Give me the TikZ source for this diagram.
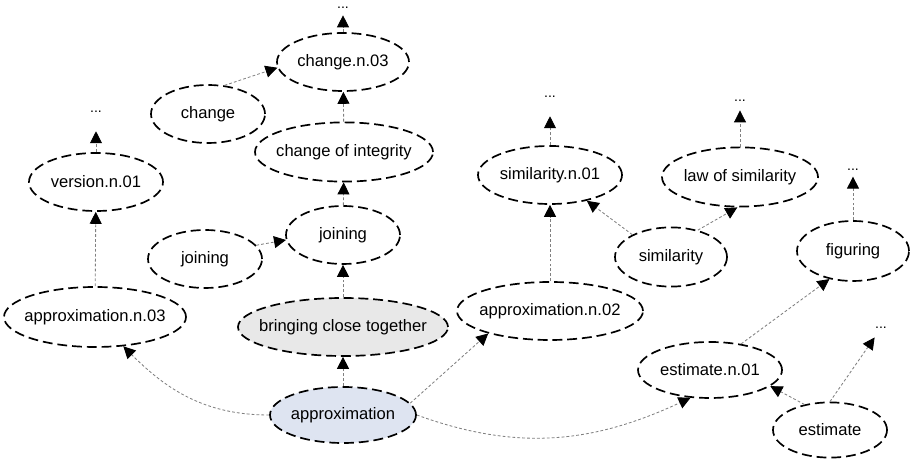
\documentclass[tikz,border=0pt]{standalone}
\usepackage{fontspec}
\setmainfont{Liberation Sans}
\usepackage{tikz}
\usetikzlibrary{shapes.geometric,arrows.meta}

\definecolor{seedblue}{RGB}{222,228,241}
\definecolor{hypgray}{RGB}{232,232,232}
\newcommand{\lbl}[1]{\makebox[0pt]{#1}}

\tikzset{
  concept/.style={ellipse,draw=black,line width=1.2pt,dash pattern=on 7pt off 3.5pt,
    inner sep=0pt,minimum height=1.45cm,font=\fontsize{11.8}{14}\selectfont},
  link/.style={draw=gray,line width=0.6pt,dash pattern=on 2pt off 1.5pt,
    -{Triangle[length=8.5pt,width=8.5pt,color=black]}},
  dots/.style={inner sep=0pt,outer sep=6pt,anchor=base,font=\fontsize{10}{12}\selectfont}
}

\begin{document}
\begin{tikzpicture}[x=0.25cm,y=0.25cm]

  \useasboundingbox (0,0) rectangle (91.2,46.1);

  %% Draw the synsets and lemmas
  \node[concept,minimum width=3.3cm] (chg03) at (34.3,39.9) {\lbl{change.n.03}};
  \node[concept,minimum width=2.85cm] (chg) at (20.8,34.7) {\lbl{change}};
  \node[concept,minimum width=4.45cm,minimum height=1.48cm] (chgint) at (34.4,30.9) {\lbl{change of integrity}};
  \node[concept,minimum width=3.35cm] (ver01) at (9.6,27.9) {\lbl{version.n.01}};
  \node[concept,minimum width=2.85cm] (jn) at (34.3,22.6) {\lbl{joining}};
  \node[concept,minimum width=2.85cm] (jnl) at (20.5,20.2) {\lbl{joining}};
  \node[concept,minimum width=4.55cm,minimum height=1.5cm] (apx03) at (9.5,14.4) {\lbl{approximation.n.03}};
  \node[concept,minimum width=5.25cm,fill=hypgray] (bct) at (34.3,13.4) {\lbl{bringing close together}};
  \node[concept,minimum width=3.65cm,minimum height=1.4cm,fill=seedblue] (apx) at (34.3,4.6) {\lbl{approximation}};
  \node[concept,minimum width=3.6cm] (sim01) at (55.0,28.6) {\lbl{similarity.n.01}};
  \node[concept,minimum width=3.9cm,minimum height=1.48cm] (law) at (74.0,28.4) {\lbl{law of similarity}};
  \node[concept,minimum width=2.8cm,minimum height=1.48cm] (sim) at (67.1,20.4) {\lbl{similarity}};
  \node[concept,minimum width=2.8cm,minimum height=1.5cm] (fig) at (85.3,21.0) {\lbl{figuring}};
  \node[concept,minimum width=4.65cm] (apx02) at (55.0,15.0) {\lbl{approximation.n.02}};
  \node[concept,minimum width=3.6cm,minimum height=1.4cm] (est01) at (71.0,9.1) {\lbl{estimate.n.01}};
  \node[concept,minimum width=2.85cm,minimum height=1.38cm] (est) at (83.0,3.1) {\lbl{estimate}};

  %% Add the open ends
  \node[dots,outer sep=4.5pt] (d1) at (34.3,45.2) {...};
  \node[dots,outer sep=13pt] (d2) at (9.6,34.8) {...};
  \node[dots,outer sep=13pt] (d3) at (55.0,36.3) {...};
  \node[dots] (d4) at (74.0,35.9) {...};
  \node[dots,outer sep=4pt] (d5) at (85.3,29.0) {...};
  \node[dots] (d6) at (88.1,13.2) {...};

  %% Draw the relations
  \draw[link] (chg03) -- (d1);
  \draw[link] (chg.60) -- (chg03.185);
  \draw[link] (chgint) -- (chg03);
  \draw[link] (jn) -- (chgint);
  \draw[link] (jnl.15) -- (jn.185);
  \draw[link] (bct) -- (jn);
  \draw[link] (apx) -- (bct);
  \draw[link] (apx.west) to[out=180,in=-45] (apx03.-46);
  \draw[link] (apx.10) -- (apx02.200);
  \draw[link] (apx.east) to[out=-20,in=205] (est01.235);
  \draw[link] (apx03) -- (ver01);
  \draw[link] (ver01) -- (d2);
  \draw[link] (apx02) -- (sim01);
  \draw[link] (sim01) -- (d3);
  \draw[link] (sim.150) -- (sim01.-35);
  \draw[link] (sim.45) -- (law.-95);
  \draw[link] (law) -- (d4);
  \draw[link] (est01.40) -- (fig.-130);
  \draw[link] (fig) -- (d5);
  \draw[link] (est.135) -- (est01.-15);
  \draw[link] (est.north) -- (d6);

\end{tikzpicture}
\end{document}
